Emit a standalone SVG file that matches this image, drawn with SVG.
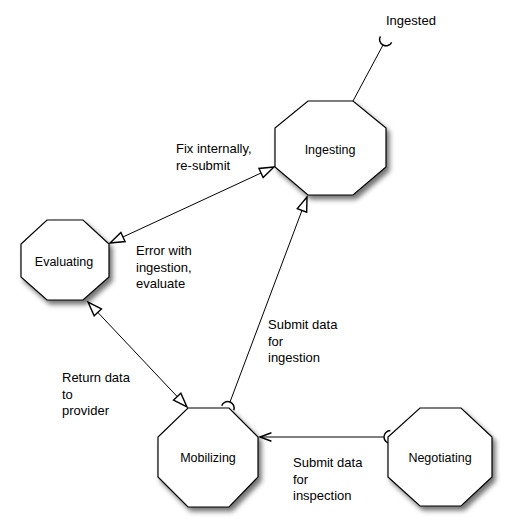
<svg xmlns="http://www.w3.org/2000/svg" width="512" height="530" viewBox="0 0 512 530">
<style>
.node{fill:#fff;stroke:#000;stroke-width:1.2;filter:url(#sh)}
.nl{font-family:"Liberation Sans",Arial,sans-serif;font-size:12.5px;text-anchor:middle;fill:#000}
.el{font-family:"Liberation Sans",Arial,sans-serif;font-size:13px;fill:#000}
.c{fill:none;stroke:#000;stroke-width:1}
</style>
<defs>
<filter id="sh" x="-20%" y="-20%" width="150%" height="150%">
<feDropShadow dx="3" dy="4" stdDeviation="2.5" flood-color="#000" flood-opacity="0.55"/>
</filter>
<marker id="tri" markerUnits="userSpaceOnUse" markerWidth="20" markerHeight="20" refX="0" refY="0" viewBox="-12 -6 14 12" orient="auto-start-reverse" overflow="visible">
<path d="M0,0 L-10,-3.5 L-10,3.5 Z" fill="#fff" stroke="#000" stroke-width="1"/>
</marker>
<marker id="open" markerUnits="userSpaceOnUse" markerWidth="20" markerHeight="20" refX="0" refY="0" viewBox="-12 -6 14 12" orient="auto-start-reverse" overflow="visible">
<path d="M-8,-3 L0,0 L-8,3" fill="none" stroke="#000" stroke-width="1"/>
</marker>
<marker id="sock" markerUnits="userSpaceOnUse" markerWidth="20" markerHeight="20" refX="0" refY="0" viewBox="-6 -6 14 12" orient="auto" overflow="visible">
<path d="M4.5,-4.5 A4.5,4.5 0 0 0 4.5,4.5" fill="none" stroke="#000" stroke-width="1"/>
</marker>
</defs>
<g id="connectors">
<path class="c" d="M353,101 L383,45" marker-end="url(#sock)"/>
<path class="c" d="M274,167 L110,243" marker-start="url(#tri)" marker-end="url(#tri)"/>
<path class="c" d="M88,302 L187,407" marker-start="url(#tri)" marker-end="url(#tri)"/>
<path class="c" d="M307,197 L230,402" marker-start="url(#tri)" marker-end="url(#sock)"/>
<path class="c" d="M260,437 L384,437" marker-start="url(#open)" marker-end="url(#sock)"/>
</g>
<g id="labels">
<text class="el" x="386" y="25">Ingested</text>
<text class="el" x="176" y="153">Fix internally,</text>
<text class="el" x="176" y="169.5">re-submit</text>
<text class="el" x="136" y="255">Error with</text>
<text class="el" x="136" y="271.5">ingestion,</text>
<text class="el" x="136" y="288">evaluate</text>
<text class="el" x="62" y="382">Return data</text>
<text class="el" x="62" y="398.5">to</text>
<text class="el" x="62" y="415">provider</text>
<text class="el" x="268" y="329">Submit data</text>
<text class="el" x="268" y="345.5">for</text>
<text class="el" x="268" y="362">ingestion</text>
<text class="el" x="293" y="467">Submit data</text>
<text class="el" x="293" y="483.5">for</text>
<text class="el" x="293" y="500">inspection</text>
</g>
<g id="ingesting">
<polygon class="node" points="308,101 353,101 386,128 386,167 353,195 308,195 275,167 275,128"/>
<text class="nl" x="330" y="154">Ingesting</text>
</g>
<g id="evaluating">
<polygon class="node" points="47,220 83,220 109,244 109,277 83,300 47,300 21,277 21,244"/>
<text class="nl" x="64" y="266">Evaluating</text>
</g>
<g id="mobilizing">
<polygon class="node" points="188,408 229,408 258,437 258,477 229,507 188,507 158,477 158,437"/>
<text class="nl" x="208" y="462">Mobilizing</text>
</g>
<g id="negotiating">
<polygon class="node" points="420,408 461,408 492,437 492,477 461,506 420,506 388,477 388,437"/>
<text class="nl" x="440" y="462">Negotiating</text>
</g>
</svg>
